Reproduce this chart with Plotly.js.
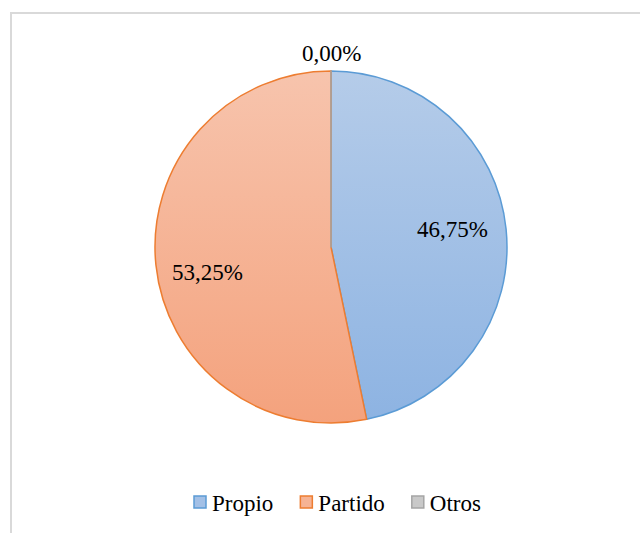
<!DOCTYPE html>
<html>
<head>
<meta charset="utf-8">
<script src="https://cdn.plot.ly/plotly-3.0.1.min.js"></script>
<style>
  html, body { margin: 0; padding: 0; background: #fff; overflow: hidden; font-family: 'Liberation Serif', serif; }
  #frame { position: absolute; left: 10px; top: 12px; width: 700px; height: 600px;
           border-top: 2px solid #d9d9d9; border-left: 2px solid #d9d9d9; }
  #chart { position: absolute; left: 0; top: 0; width: 640px; height: 533px; }
  #fontwarm { position: absolute; left: -1000px; top: -1000px; font-family: 'Liberation Serif'; font-size: 23px; }
</style>
</head>
<body>
<div id="fontwarm">Propio Partido Otros 0,00% 46,75% 53,25%</div>
<div id="frame"></div>
<div id="chart"></div>
<script>
const labels = ["Propio", "Partido", "Otros"];
const values = [46.75, 53.25, 0.00];
const lineColors = ["#5b9bd5", "#ed7d31", "#a5a5a5"];
const fillColors = ["#a3c0e6", "#f6b394", "#c9c9c9"];
const gradTop = ["#b5cce9", "#f7c4ad", "#d0d0d0"];
const gradBottom = ["#8db3e2", "#f4a27d", "#bdbdbd"];
// label centres (pixels in the 640x533 figure) for each slice's value label
const labelPosX = [452, 207, 331];
const labelPosY = [229, 272, 54];

const FONT = "Liberation Serif";
function fmt(v) { return v.toFixed(2).replace(".", ",") + "%"; }

const trace = {
  type: "pie",
  labels: labels,
  values: values,
  sort: false,
  direction: "clockwise",
  rotation: 0,
  textinfo: "none",
  marker: { colors: fillColors, line: { color: lineColors, width: 1.5 } },
  domain: { x: [155/640, 507/640], y: [1 - 423/533, 1 - 71/533] },
  hoverinfo: "none"
};

const annotations = values.map(function (v, i) {
  return {
    xref: "paper", yref: "paper",
    x: labelPosX[i] / 640, y: 1 - labelPosY[i] / 533,
    xanchor: "center", yanchor: "middle",
    text: fmt(v), showarrow: false,
    font: { family: FONT, size: 23, color: "#000" }
  };
});

const layout = {
  width: 640, height: 533,
  margin: { l: 0, r: 0, t: 0, b: 0 },
  paper_bgcolor: "rgba(0,0,0,0)",
  plot_bgcolor: "rgba(0,0,0,0)",
  font: { family: FONT, color: "#000" },
  showlegend: true,
  legend: {
    orientation: "h", x: 337/640, xanchor: "center", y: 1 - 502/533, yanchor: "middle",
    font: { family: FONT, size: 23, color: "#000" },
    itemwidth: 30, traceorder: "normal"
  },
  annotations: annotations
};

function draw() {
  return Plotly.newPlot("chart", [trace], layout, { staticPlot: true, displayModeBar: false }).then(function () {
    const svg = document.querySelector("#chart .main-svg");
    const ns = "http://www.w3.org/2000/svg";
    let defs = svg.querySelector("defs");
    if (!defs) { defs = document.createElementNS(ns, "defs"); svg.insertBefore(defs, svg.firstChild); }
    const slices = svg.querySelectorAll(".slice path.surface");
    const bb = svg.querySelector(".pielayer").getBBox();
    slices.forEach(function (p, i) {
      const g = document.createElementNS(ns, "linearGradient");
      g.setAttribute("id", "pieGrad" + i);
      g.setAttribute("gradientUnits", "userSpaceOnUse");
      g.setAttribute("x1", 0); g.setAttribute("x2", 0);
      g.setAttribute("y1", bb.y); g.setAttribute("y2", bb.y + bb.height);
      const s1 = document.createElementNS(ns, "stop");
      s1.setAttribute("offset", "0"); s1.setAttribute("stop-color", gradTop[i]);
      const s2 = document.createElementNS(ns, "stop");
      s2.setAttribute("offset", "1"); s2.setAttribute("stop-color", gradBottom[i]);
      g.appendChild(s1); g.appendChild(s2);
      defs.appendChild(g);
      p.style.fill = "url(#pieGrad" + i + ")";
    });
    // tighten gap between legend swatch and its label
    document.querySelectorAll("#chart .legendtext").forEach(function (t) {
      const x = parseFloat(t.getAttribute("x")) || 40;
      t.setAttribute("x", x - 8);
    });
  });
}

if (document.fonts && document.fonts.load) {
  document.fonts.load("23px 'Liberation Serif'").then(draw, draw);
} else {
  draw();
}
</script>
</body>
</html>
